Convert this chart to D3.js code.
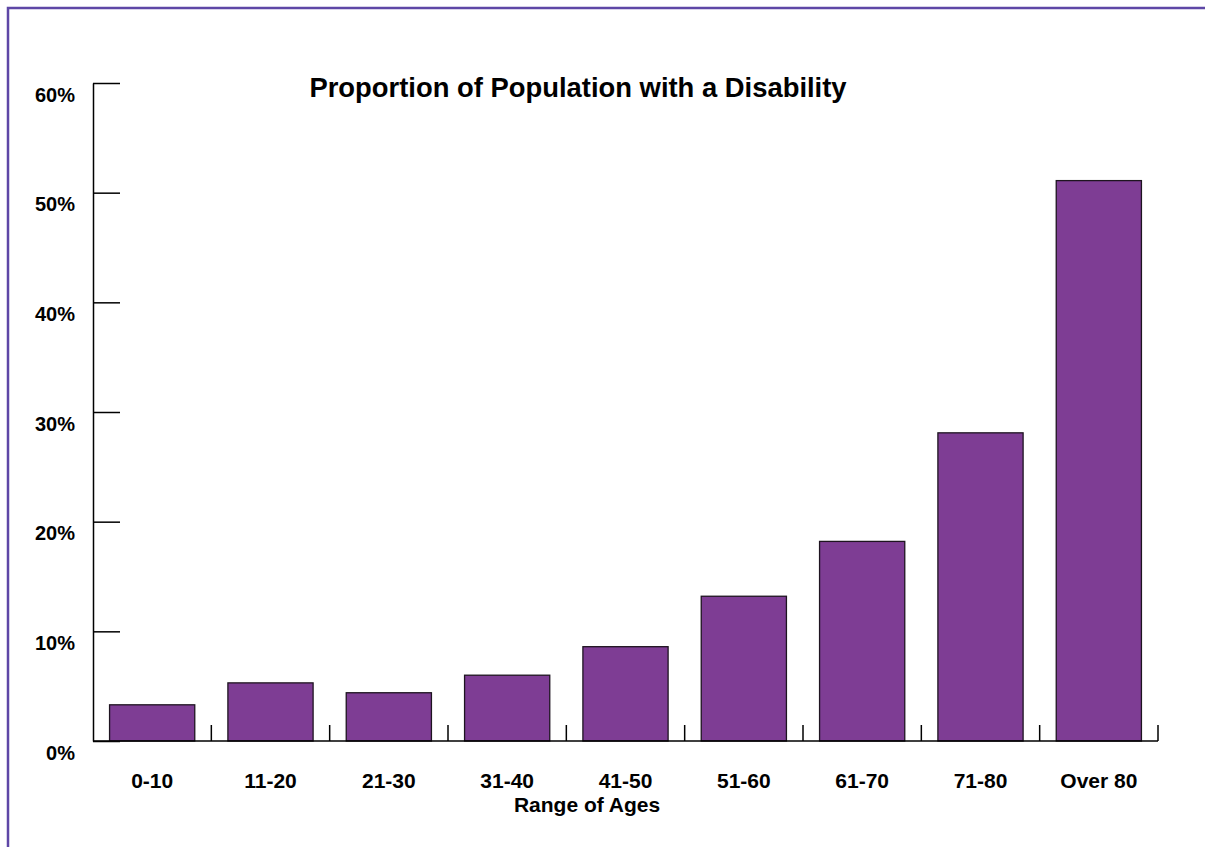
<!DOCTYPE html>
<html>
<head>
<meta charset="utf-8">
<script src="https://cdn.jsdelivr.net/npm/d3@7"></script>
<style>
  html, body { margin: 0; padding: 0; background: #fff; }
  svg { display: block; }
  text { font-family: "Liberation Sans", Arial, Helvetica, sans-serif; font-weight: bold; fill: #000; }
</style>
</head>
<body>
<svg id="chart" width="1205" height="847"></svg>
<script>
// Age ranges and the share of each with a disability (percent)
const ageRanges = ["0-10", "11-20", "21-30", "31-40", "41-50", "51-60", "61-70", "71-80", "Over 80"];
const disabilityPct = [3.3, 5.3, 4.4, 6.0, 8.6, 13.2, 18.2, 28.1, 51.1];
const yTicks = [0, 10, 20, 30, 40, 50, 60];

const chartTitle = "Proportion of Population with a Disability";
const xAxisTitle = "Range of Ages";

const svg = d3.select("#chart");
const W = 1205, H = 847;
const plot = { left: 93, right: 1158, top: 83, bottom: 741 };

// Purple frame around the figure
svg.append("rect")
  .attr("x", 8).attr("y", 8)
  .attr("width", W).attr("height", H)
  .attr("fill", "none")
  .attr("stroke", "#5e47a6")
  .attr("stroke-width", 2.5);

const x = d3.scaleBand()
  .domain(ageRanges)
  .range([plot.left, plot.right])
  .paddingInner(0.28)
  .paddingOuter(0.14);

const y = d3.scaleLinear()
  .domain([0, 60])
  .range([plot.bottom, plot.top]);

// Y axis: ticks point inward, labels sit slightly below each tick
const yAxis = svg.append("g")
  .attr("transform", `translate(${plot.left},0)`)
  .call(d3.axisLeft(y)
    .tickValues(yTicks)
    .tickFormat(d => d + "%")
    .tickSizeInner(-27)
    .tickSizeOuter(0)
    .tickPadding(18));
yAxis.select(".domain").attr("stroke", "#000").attr("stroke-width", 1.5);
yAxis.selectAll(".tick line").attr("stroke", "#000").attr("stroke-width", 1.5);
yAxis.selectAll(".tick text")
  .attr("dy", 18)
  .style("font-size", "20px")
  .style("font-family", "'Liberation Sans', Arial, sans-serif")
  .style("font-weight", "bold");

// Bars
svg.append("g")
  .selectAll("rect")
  .data(ageRanges.map((a, i) => ({ a, v: disabilityPct[i] })))
  .join("rect")
  .attr("x", d => x(d.a))
  .attr("y", d => y(d.v))
  .attr("width", x.bandwidth())
  .attr("height", d => y(0) - y(d.v))
  .attr("fill", "#7e3d94")
  .attr("stroke", "#1e1420")
  .attr("stroke-width", 1.3);

// X axis baseline and category boundary ticks
const gx = svg.append("g");
gx.append("line")
  .attr("x1", plot.left).attr("x2", plot.right)
  .attr("y1", y(0)).attr("y2", y(0))
  .attr("stroke", "#000").attr("stroke-width", 1.5);
gx.selectAll("line.bound")
  .data(d3.range(1, ageRanges.length + 1))
  .join("line")
  .attr("class", "bound")
  .attr("x1", i => x.range()[0] + i * x.step())
  .attr("x2", i => x.range()[0] + i * x.step())
  .attr("y1", y(0)).attr("y2", y(0) - 16)
  .attr("stroke", "#000").attr("stroke-width", 1.5);

gx.selectAll("text")
  .data(ageRanges)
  .join("text")
  .attr("x", d => x(d) + x.bandwidth() / 2)
  .attr("y", y(0) + 47)
  .attr("text-anchor", "middle")
  .style("font-size", "21px")
  .text(d => d);

// Axis title
svg.append("text")
  .attr("x", 587)
  .attr("y", 812)
  .attr("text-anchor", "middle")
  .style("font-size", "21px")
  .text(xAxisTitle);

// Chart title
svg.append("text")
  .attr("x", 578)
  .attr("y", 97)
  .attr("text-anchor", "middle")
  .style("font-size", "27.4px")
  .text(chartTitle);
</script>
</body>
</html>
